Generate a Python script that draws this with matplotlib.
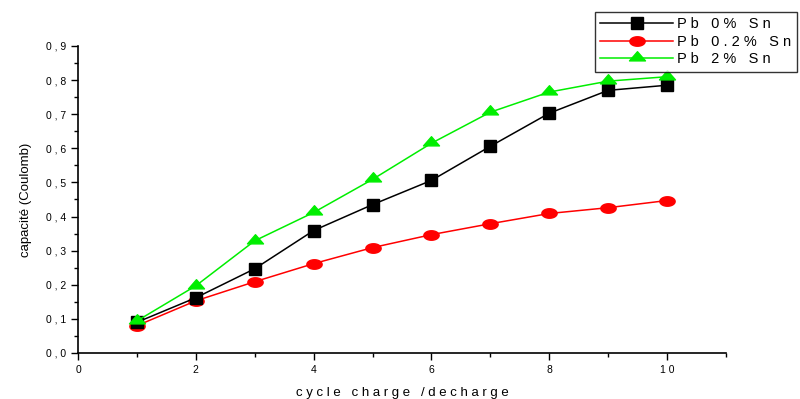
import matplotlib
matplotlib.use("Agg")
import matplotlib.pyplot as plt
from matplotlib.ticker import MultipleLocator, FixedLocator
from matplotlib.path import Path
import numpy as np

plt.rcParams['font.family'] = ['Liberation Sans', 'DejaVu Sans']

cycles = [1, 2, 3, 4, 5, 6, 7, 8, 9, 10]
pb_0 = [0.090, 0.162, 0.247, 0.359, 0.435, 0.506, 0.606, 0.703, 0.770, 0.785]
pb_02 = [0.080, 0.153, 0.209, 0.262, 0.309, 0.347, 0.379, 0.409, 0.426, 0.447]
pb_2 = [0.094, 0.197, 0.329, 0.412, 0.509, 0.615, 0.706, 0.765, 0.797, 0.810]
labels = ["P b   0 %   S n", "P b   0 . 2 %   S n", "P b   2 %   S n"]
yticks = [0.0, 0.1, 0.2, 0.3, 0.4, 0.5, 0.6, 0.7, 0.8, 0.9]
ytick_labels = ["0 , 0", "0 , 1", "0 , 2", "0 , 3", "0 , 4", "0 , 5", "0 , 6", "0 , 7", "0 , 8", "0 , 9"]
xticks = [0, 2, 4, 6, 8, 10]
xtick_labels = ["0", "2", "4", "6", "8", "1 0"]

# flattened marker shapes (ellipse, wide triangle)
t = np.linspace(0, 2*np.pi, 60)
ellipse = Path(np.column_stack([np.cos(t), 0.62*np.sin(t)]), closed=True)
tri = Path([(-1, -0.3), (1, -0.3), (0, 0.85), (-1, -0.3)], closed=True)

fig = plt.figure(figsize=(8, 3.99), dpi=100)
ax = fig.add_axes([78/800, 1-353/399, 648/800, 307/399])

ax.plot(cycles, pb_0, color='black', marker='s', markersize=8, lw=1.1, label=labels[0], zorder=3)
ax.plot(cycles, pb_02, color='red', marker=ellipse, markersize=11, lw=1.1, label=labels[1], zorder=2)
ax.plot(cycles, pb_2, color='#00ee00', marker=tri, markersize=11.5, lw=1.1, label=labels[2], zorder=4)

ax.set_xlim(0, 11)
ax.set_ylim(0, 0.9)
ax.spines['top'].set_visible(False)
ax.spines['right'].set_visible(False)
ax.xaxis.set_major_locator(FixedLocator(xticks))
ax.set_xticklabels(xtick_labels)
ax.xaxis.set_minor_locator(MultipleLocator(1))
ax.yaxis.set_major_locator(FixedLocator(yticks))
ax.set_yticklabels(ytick_labels)
ax.yaxis.set_minor_locator(MultipleLocator(0.05))
ax.tick_params(which='major', direction='out', length=5, width=1, labelsize=7.5)
ax.tick_params(which='minor', direction='out', length=3, width=1)
for s in ax.spines.values():
    s.set_linewidth(1.2)

ax.set_xlabel("c y c l e   c h a r g e   / d e c h a r g e", fontsize=9.5, labelpad=9)
ax.set_ylabel("capacité (Coulomb)", fontsize=9.5, labelpad=10)

leg = ax.legend(loc='upper left', bbox_to_anchor=(595/800, 1-12/399), bbox_transform=fig.transFigure,
                frameon=True, fancybox=False, fontsize=10.5, handlelength=5.0, borderpad=0.35,
                labelspacing=0.25, handletextpad=0.3, borderaxespad=0)
leg.get_frame().set_edgecolor('black')
leg.get_frame().set_linewidth(1.0)

fig.savefig("out.png", dpi=100)
